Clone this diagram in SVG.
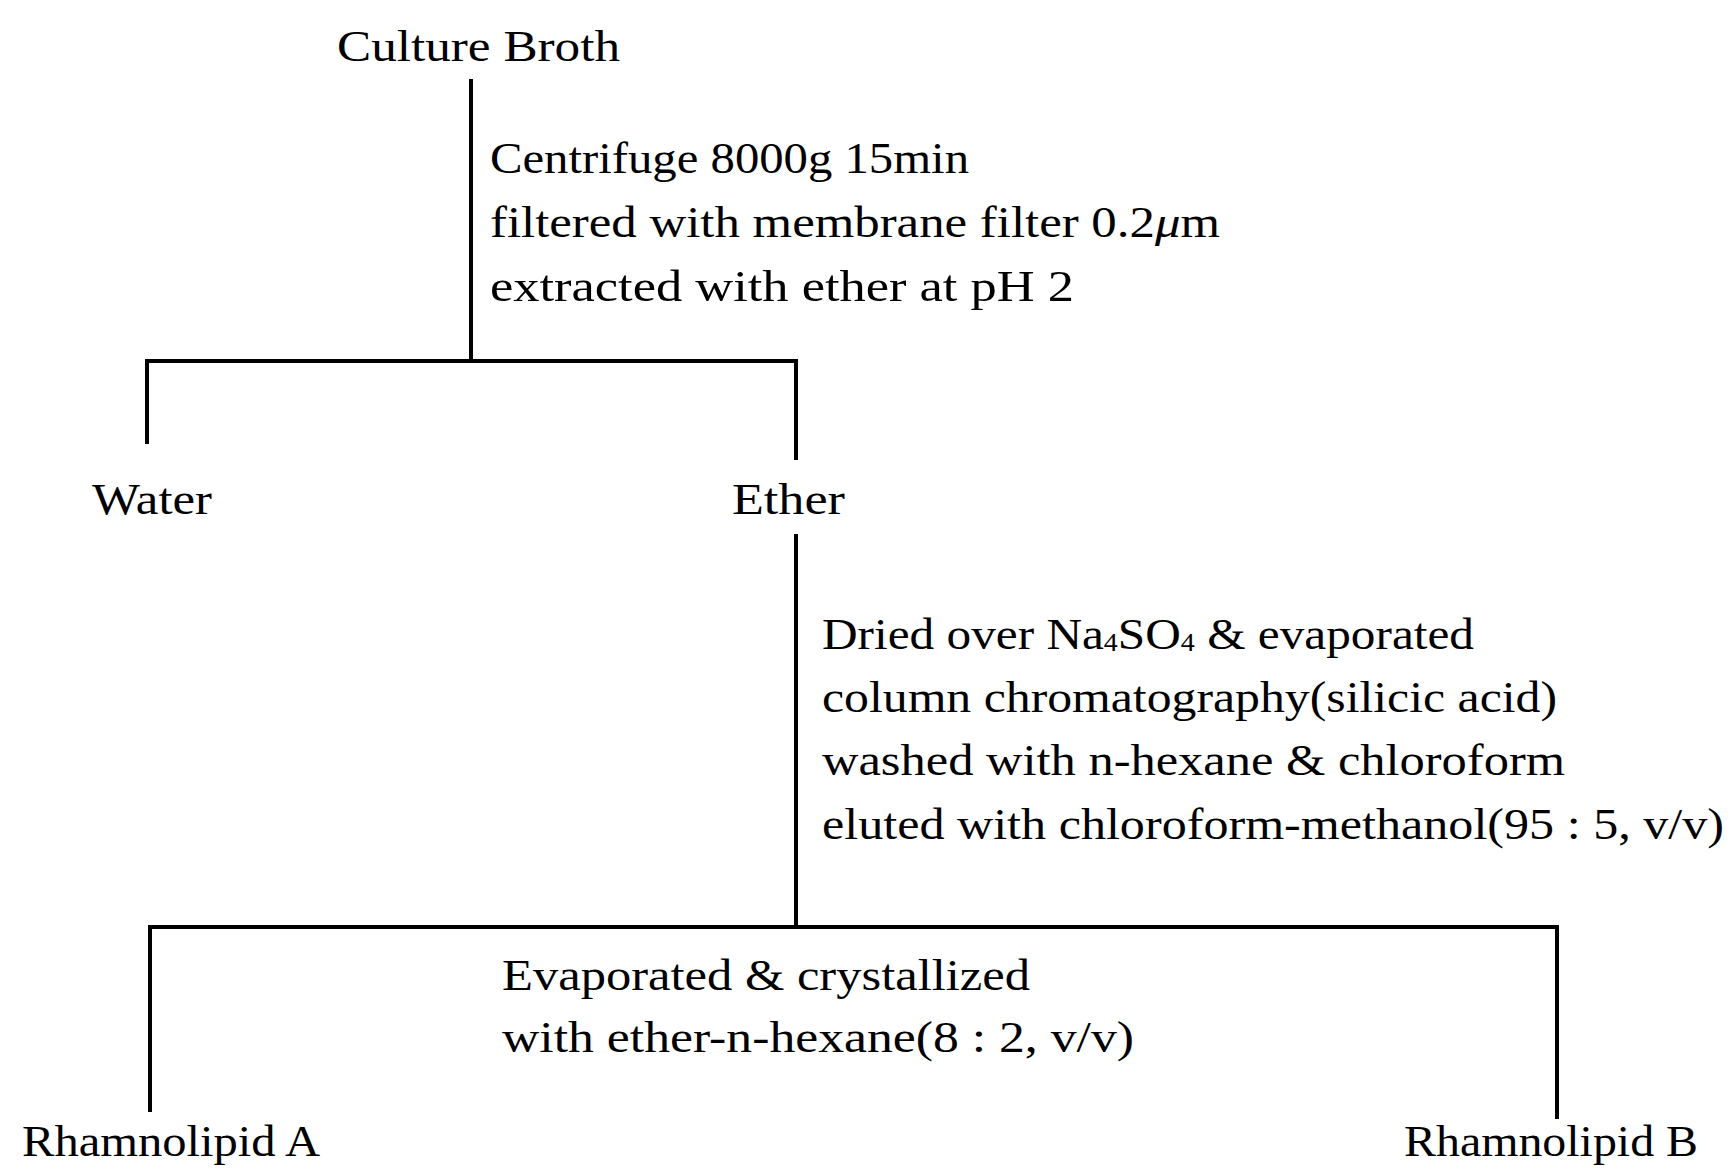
<svg xmlns="http://www.w3.org/2000/svg" width="1731" height="1169" viewBox="0 0 1731 1169">
<style>
text{font-family:"Liberation Serif","Times New Roman",serif;font-size:44px;fill:#000}
.c{stroke:#000;stroke-width:4;fill:none;stroke-linecap:square}
.s{font-size:25px}
</style>
<rect width="1731" height="1169" fill="#fff"/>
<g id="connectors">
<line class="c" x1="471" y1="81" x2="471" y2="361"/>
<line class="c" x1="147" y1="361" x2="796" y2="361"/>
<line class="c" x1="147" y1="361" x2="147" y2="442"/>
<line class="c" x1="796" y1="361" x2="796" y2="458"/>
<line class="c" x1="796" y1="536" x2="796" y2="927"/>
<line class="c" x1="150" y1="927" x2="1557" y2="927"/>
<line class="c" x1="150" y1="927" x2="150" y2="1110"/>
<line class="c" x1="1557" y1="927" x2="1557" y2="1117"/>
</g>
<g id="culture-broth"><text x="337" y="61" textLength="283" lengthAdjust="spacingAndGlyphs">Culture Broth</text></g>
<g id="step1">
<text x="490" y="173" textLength="479" lengthAdjust="spacingAndGlyphs">Centrifuge 8000g 15min</text>
<text x="490" y="237" textLength="730" lengthAdjust="spacingAndGlyphs">filtered with membrane filter 0.2<tspan font-style="italic">μ</tspan>m</text>
<text x="490" y="301" textLength="584" lengthAdjust="spacingAndGlyphs">extracted with ether at pH 2</text>
</g>
<g id="water"><text x="92" y="514" textLength="120" lengthAdjust="spacingAndGlyphs">Water</text></g>
<g id="ether"><text x="732" y="514" textLength="113" lengthAdjust="spacingAndGlyphs">Ether</text></g>
<g id="step2">
<text x="822" y="649" textLength="652" lengthAdjust="spacingAndGlyphs">Dried over Na<tspan class="s" dy="2">4</tspan><tspan dy="-2">SO</tspan><tspan class="s" dy="2">4</tspan><tspan dy="-2"> &amp; evaporated</tspan></text>
<text x="822" y="712" textLength="735" lengthAdjust="spacingAndGlyphs">column chromatography(silicic acid)</text>
<text x="822" y="775" textLength="743" lengthAdjust="spacingAndGlyphs">washed with n-hexane &amp; chloroform</text>
<text x="822" y="839" textLength="902" lengthAdjust="spacingAndGlyphs">eluted with chloroform-methanol(95 : 5, v/v)</text>
</g>
<g id="step3">
<text x="502" y="990" textLength="528" lengthAdjust="spacingAndGlyphs">Evaporated &amp; crystallized</text>
<text x="502" y="1052" textLength="632" lengthAdjust="spacingAndGlyphs">with ether-n-hexane(8 : 2, v/v)</text>
</g>
<g id="rhamnolipid-a"><text x="22" y="1156" textLength="298" lengthAdjust="spacingAndGlyphs">Rhamnolipid A</text></g>
<g id="rhamnolipid-b"><text x="1404" y="1156" textLength="294" lengthAdjust="spacingAndGlyphs">Rhamnolipid B</text></g>
</svg>
